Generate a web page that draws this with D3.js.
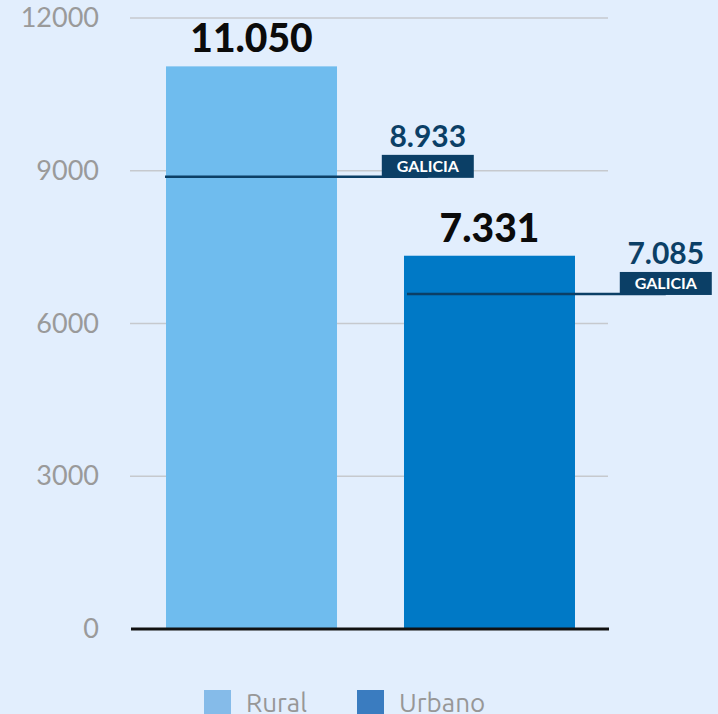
<!DOCTYPE html>
<meta charset="utf-8">
<script src="https://d3js.org/d3.v7.min.js"></script>
<style>
  body { margin: 0; background: #e2eefd; }
  svg { display: block; }
</style>
<div id="chart"></div>
<script>
// Chart data
const categories = ["Rural", "Urbano"];
const values = [11050, 7331];
const valueLabels = ["11.050", "7.331"];
const barColors = ["#6fbcee", "#0079c6"];
const legendColors = ["#85bbe9", "#3a7cc0"];
// Galicia reference marks (line position, label as printed)
const galiciaLine = [8880, 6580];
const galiciaLabels = ["8.933", "7.085"];
const yTicks = [0, 3000, 6000, 9000, 12000];

const width = 718, height = 714;
const margin = {top: 18, right: 110, bottom: 85, left: 130};

const svg = d3.select("#chart")
    .append("svg")
    .attr("width", width)
    .attr("height", height);

const x = d3.scaleBand()
    .domain(categories)
    .range([margin.left + 3, width - margin.right])
    .paddingInner(0.2815)
    .paddingOuter(0.1387);

const y = d3.scaleLinear()
    .domain([0, 12000])
    .range([height - margin.bottom, margin.top]);

// gridlines + tick labels
const grid = svg.append("g");
grid.selectAll("line")
    .data(yTicks.filter(d => d > 0))
    .join("line")
    .attr("x1", margin.left)
    .attr("x2", width - margin.right)
    .attr("y1", d => y(d))
    .attr("y2", d => y(d))
    .attr("stroke", "#c6c9ce")
    .attr("stroke-width", 1.5);

grid.selectAll("text")
    .data(yTicks)
    .join("text")
    .attr("x", 99)
    .attr("y", d => y(d) + 9)
    .attr("text-anchor", "end")
    .attr("font-family", "Lato, 'Noto Sans', sans-serif")
    .attr("font-size", 27)
    .attr("fill", "#9a9a9a")
    .text(d => d);

// bars
svg.append("g")
    .selectAll("rect")
    .data(categories)
    .join("rect")
    .attr("x", d => x(d))
    .attr("y", (d, i) => y(values[i]))
    .attr("width", x.bandwidth())
    .attr("height", (d, i) => y(0) - y(values[i]))
    .attr("fill", (d, i) => barColors[i]);

// baseline
svg.append("line")
    .attr("x1", margin.left + 1)
    .attr("x2", width - margin.right + 1)
    .attr("y1", y(0))
    .attr("y2", y(0))
    .attr("stroke", "#111")
    .attr("stroke-width", 3);

// value labels
svg.append("g")
    .selectAll("text")
    .data(categories)
    .join("text")
    .attr("x", d => x(d) + x.bandwidth() / 2)
    .attr("y", (d, i) => y(values[i]) - 14)
    .attr("text-anchor", "middle")
    .attr("font-family", "Lato, 'Noto Sans', sans-serif")
    .attr("font-weight", 900)
    .attr("font-size", 39)
    .attr("fill", "#0b0b0b")
    .text((d, i) => valueLabels[i]);

// Galicia reference lines
const ref = svg.append("g");
const refEnd = d => x(d) + x.step() * 1.1;

ref.selectAll("line")
    .data(categories)
    .join("line")
    .attr("x1", (d, i) => x(d) - 1 + i * 4)
    .attr("x2", d => refEnd(d))
    .attr("y1", (d, i) => y(galiciaLine[i]))
    .attr("y2", (d, i) => y(galiciaLine[i]))
    .attr("stroke", "#0b3f66")
    .attr("stroke-width", 2.5);

ref.selectAll("rect")
    .data(categories)
    .join("rect")
    .attr("x", d => refEnd(d) - 46)
    .attr("y", (d, i) => y(galiciaLine[i]) - 22)
    .attr("width", 92)
    .attr("height", 23)
    .attr("fill", "#0b3f66");

ref.selectAll("text.tag")
    .data(categories)
    .join("text")
    .attr("class", "tag")
    .attr("x", d => refEnd(d))
    .attr("y", (d, i) => y(galiciaLine[i]) - 5)
    .attr("text-anchor", "middle")
    .attr("font-family", "Lato, 'Noto Sans', sans-serif")
    .attr("font-weight", 700)
    .attr("font-size", 16)
    .attr("fill", "#ffffff")
    .text("GALICIA");

ref.selectAll("text.val")
    .data(categories)
    .join("text")
    .attr("class", "val")
    .attr("x", d => refEnd(d))
    .attr("y", (d, i) => y(galiciaLine[i]) - 30)
    .attr("text-anchor", "middle")
    .attr("font-family", "Lato, 'Noto Sans', sans-serif")
    .attr("font-weight", 700)
    .attr("font-size", 30)
    .attr("fill", "#0b3f66")
    .text((d, i) => galiciaLabels[i]);

// legend
const legendX = [204, 357];
const legend = svg.append("g")
    .selectAll("g")
    .data(categories)
    .join("g")
    .attr("transform", (d, i) => `translate(${legendX[i]}, 690)`);

legend.append("rect")
    .attr("width", 27)
    .attr("height", 30)
    .attr("fill", (d, i) => legendColors[i]);

legend.append("text")
    .attr("x", 42)
    .attr("y", 22)
    .attr("font-family", "Ubuntu, 'Open Sans', sans-serif")
    .attr("font-size", 26)
    .attr("fill", "#979797")
    .text(d => d);
</script>
